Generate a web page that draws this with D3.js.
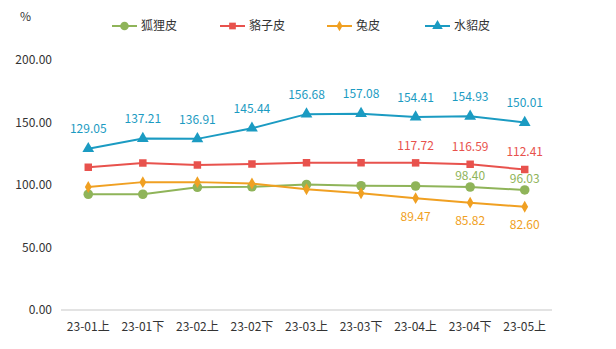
<!DOCTYPE html>
<html><head><meta charset="utf-8">
<script src="https://cdn.jsdelivr.net/npm/d3@7/dist/d3.min.js"></script>
<style>body{margin:0;background:#fff;}svg{display:block;font-family:"Noto Sans CJK SC","Open Sans",sans-serif;}</style>
</head><body>
<svg id="c" width="616" height="349"></svg>
<script>
const categories = ["23-01上","23-01下","23-02上","23-02下","23-03上","23-03下","23-04上","23-04下","23-05上"];
const seriesNames = ["狐狸皮","貉子皮","兔皮","水貂皮"];
const fox   = [92.6, 92.6, 98.2, 98.6, 100.4, 99.4, 99.2, 98.40, 96.03];
const mink2 = [114.2, 117.6, 116.0, 116.8, 117.8, 117.8, 117.72, 116.59, 112.41];
const rabbit= [98.4, 102.3, 102.3, 101.2, 96.6, 93.4, 89.47, 85.82, 82.60];
const mink  = [129.05, 137.21, 136.91, 145.44, 156.68, 157.08, 154.41, 154.93, 150.01];
const yTicks = [0, 50, 100, 150, 200];
// which points show labels
const foxLabels = [7, 8], mink2Labels = [6, 7, 8], rabbitLabels = [6, 7, 8], minkLabels = [0,1,2,3,4,5,6,7,8];

const colors = ["#8fb459", "#e8524d", "#f0a022", "#1b9bc2"];
const svg = d3.select("#c");
const x = d3.scaleBand().domain(categories).range([61, 552]);
const y = d3.scaleLinear().domain([0, 200]).range([310, 60]);

// y axis labels
svg.append("g").selectAll("text").data(yTicks).join("text")
  .attr("x", 52).attr("y", d => y(d)).attr("dy", "0.35em")
  .attr("text-anchor", "end").attr("font-size", 12).attr("fill", "#333")
  .text(d => d3.format(".2f")(d));
svg.append("text").attr("x", 20).attr("y", 21).attr("font-size", 12).attr("fill", "#333").text("%");

// x axis baseline
svg.append("line").attr("x1", x.range()[0]).attr("x2", x.range()[1])
  .attr("y1", y(0)).attr("y2", y(0)).attr("stroke", "#e3e3e3").attr("stroke-width", 2);
svg.append("g").selectAll("text").data(categories).join("text")
  .attr("x", d => x(d) + x.bandwidth()/2).attr("y", 327).attr("dy", "0.35em")
  .attr("text-anchor", "middle").attr("font-size", 12).attr("fill", "#333").text(d => d);

const cx = i => x(categories[i]) + x.bandwidth()/2;
const series = [
  {name: seriesNames[0], vals: fox, color: colors[0], sym: d3.symbolCircle, size: 72, labels: foxLabels, dy: -11.5},
  {name: seriesNames[1], vals: mink2, color: colors[1], sym: d3.symbolSquare, size: 56, labels: mink2Labels, dy: -17.5},
  {name: seriesNames[2], vals: rabbit, color: colors[2], sym: d3.symbolDiamond, size: 40, labels: rabbitLabels, dy: 18.5},
  {name: seriesNames[3], vals: mink, color: colors[3], sym: d3.symbolTriangle, size: 60, labels: minkLabels, dy: -19.5}
];

const line = d3.line().x((d, i) => cx(i)).y(d => y(d));
series.forEach(s => {
  const g = svg.append("g");
  g.append("path").attr("d", line(s.vals)).attr("fill", "none").attr("stroke", s.color).attr("stroke-width", 2);
  g.selectAll("path.m").data(s.vals).join("path").attr("class", "m")
    .attr("transform", (d, i) => `translate(${cx(i)},${y(d)})`)
    .attr("d", d3.symbol().type(s.sym).size(s.size)).attr("fill", s.color);
  g.selectAll("text").data(s.labels).join("text")
    .attr("x", i => cx(i)).attr("y", i => y(s.vals[i]) + s.dy).attr("dy", "0.35em")
    .attr("text-anchor", "middle").attr("font-size", 12).attr("fill", s.color)
    .text(i => d3.format(".2f")(s.vals[i]));
});

// legend
const legendX = [112, 220, 327, 425];
series.forEach((s, k) => {
  const g = svg.append("g").attr("transform", `translate(${legendX[k]},26)`);
  g.append("line").attr("x1", 0).attr("x2", 25).attr("stroke", s.color).attr("stroke-width", 2);
  g.append("path").attr("transform", "translate(12.5,0)").attr("d", d3.symbol().type(s.sym).size(s.size * 0.8)).attr("fill", s.color);
  g.append("text").attr("x", 29).attr("dy", "0.35em").attr("font-size", 12).attr("fill", "#333").text(s.name);
});
</script>
</body></html>
